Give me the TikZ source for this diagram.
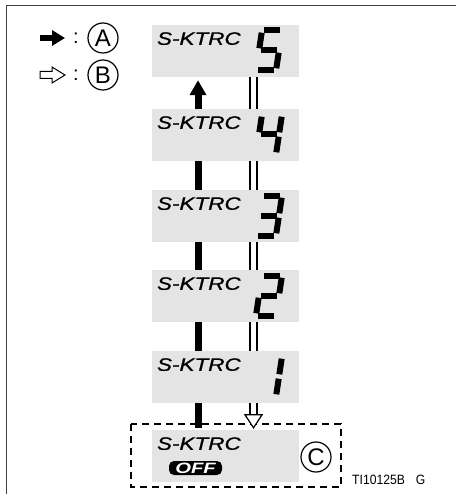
\documentclass[tikz,border=0pt]{standalone}
\usepackage{fontspec}
\setmainfont{Liberation Sans}
\usepackage{graphicx}
\usetikzlibrary{arrows.meta,positioning,calc}
\definecolor{lcd}{HTML}{E4E4E4}
\definecolor{rim}{HTML}{3F3F3F}
\newcommand{\ktrc}{\scalebox{1.25}[1]{\addfontfeature{FakeBold=0.8}S-KTRC}}
% segments of a seven-segment digit (w=20, h=40)
\newcommand{\segA}{(2.2,40)--(17.8,40)}
\newcommand{\segB}{(20,37.8)--(20,22.2)}
\newcommand{\segC}{(20,17.8)--(20,2.2)}
\newcommand{\segD}{(2.2,0)--(17.8,0)}
\newcommand{\segE}{(0,17.8)--(0,2.2)}
\newcommand{\segF}{(0,37.8)--(0,22.2)}
\newcommand{\segG}{(2.2,20)--(17.8,20)}
\newcommand{\segdigit}[2]{%
  \begin{scope}[shift={($(#1.center)+(30.5,19.5)$)},x=1pt,y=1pt,xslant=0.15]
    \foreach \s in {#2}{\edef\segpath{\csname seg\s\endcsname}\draw[seg] \segpath;}
  \end{scope}}
\tikzset{
  lcdbox/.style={fill=lcd, minimum width=147pt, minimum height=52pt, inner sep=0pt},
  lbl/.style={font=\fontsize{18}{18}\selectfont\itshape, inner sep=0pt, anchor=base west},
  seg/.style={line width=6pt, line cap=butt, draw=black},
  bar/.style={line width=7pt, draw=black},
  dbl/.style={draw=black, line width=1.3pt, double=white, double distance=5.5pt},
  hollow/.style={draw=black, line width=1.2pt, fill=white, line join=miter},
  circ/.style={circle, draw, line width=1.2pt, minimum size=30pt, inner sep=0pt,
               font=\fontsize{24}{24}\selectfont},
  colon/.style={inner sep=0pt, font=\fontsize{20}{20}\selectfont},
  offtag/.style={fill=black, rounded corners=5pt, minimum width=53pt, minimum height=14pt,
                 inner sep=0pt, text=white, font=\fontsize{15}{15}\selectfont\bfseries\itshape},
  dashframe/.style={draw=black, line width=2pt, dash pattern=on 7pt off 5pt},
  rimline/.style={draw=rim, line width=1.4pt},
  idtxt/.style={inner sep=0pt, anchor=base west, font=\fontsize{13.5}{13.5}\selectfont},
}
\begin{document}
\begin{tikzpicture}[x=1pt,y=-1pt]
\useasboundingbox (0,0) rectangle (456,494);

% ---- frame ----
\draw[rimline] (456,5.5) -- (6.5,5.5) -- (6.5,494);

% ---- legend ----
\node[circ]  (ca) at (103,38) {A};
\node[circ]  (cb) at (103,75) {B};
\node[colon] (k1) at (76,38) {:};
\node[colon] (k2) at (76,75) {:};
\coordinate (la0) at (40,38);
\coordinate (la1) at (65,38);
\draw[line width=6pt, -{Triangle[length=13pt,width=15pt]}] (la0) -- (la1);
\draw[hollow, line width=1pt] (40,71.5) -- (52,71.5) -- (52,67) -- (65,75)
      -- (52,83) -- (52,78.5) -- (40,78.5) -- cycle;

% ---- displays ----
\node[lcdbox] (b5) at (225.5,51)  {};
\node[lcdbox] (b4) at (225.5,135) {};
\node[lcdbox] (b3) at (225.5,216) {};
\node[lcdbox] (b2) at (225.5,296) {};
\node[lcdbox] (b1) at (225.5,377) {};
\node[lcdbox] (b0) at (225.5,456) {};

\node[lbl] (t5) at ($(b5.north west)+(5,20)$) {\ktrc};
\node[lbl] (t4) at ($(b4.north west)+(5,20)$) {\ktrc};
\node[lbl] (t3) at ($(b3.north west)+(5,20)$) {\ktrc};
\node[lbl] (t2) at ($(b2.north west)+(5,20)$) {\ktrc};
\node[lbl] (t1) at ($(b1.north west)+(5,20)$) {\ktrc};
\node[lbl] (t0) at ($(b0.north west)+(5,20)$) {\ktrc};

\segdigit{b5}{A,F,G,C,D}
\segdigit{b4}{F,G,B,C}
\segdigit{b3}{A,B,G,C,D}
\segdigit{b2}{A,B,G,E,D}
\segdigit{b1}{B,C}

\node[offtag] (off) at ($(b0.center)+(-30,12)$) {\scalebox{1.35}[1]{OFF}};

% ---- OFF group ----
\draw[dashframe] (131,424) rectangle (341,487);
\node[circ] (cc) at (316,457) {C};
\node[idtxt] (tid) at (352,484) {\scalebox{0.9}[1]{TI10125B}\hspace{11pt}\scalebox{0.9}[1]{G}};

% ---- up: black bar ----
\coordinate (barx) at (198,0);
\draw[bar, -{Triangle[length=15pt,width=16pt]}, shorten >=3pt]
      (b4.north -| barx) -- (b5.south -| barx);
\draw[bar] (b3.north -| barx) -- (b4.south -| barx);
\draw[bar] (b2.north -| barx) -- (b3.south -| barx);
\draw[bar] (b1.north -| barx) -- (b2.south -| barx);
\draw[bar] ($(b0.north -| barx)+(0,-2)$) -- (b1.south -| barx);

% ---- down: hollow double line ----
\coordinate (dblx) at (253.5,0);
\coordinate (tip) at ($(b0.north -| dblx)+(0,-2)$);
\draw[dbl] (b5.south -| dblx) -- (b4.north -| dblx);
\draw[dbl] (b4.south -| dblx) -- (b3.north -| dblx);
\draw[dbl] (b3.south -| dblx) -- (b2.north -| dblx);
\draw[dbl] (b2.south -| dblx) -- (b1.north -| dblx);
\draw[dbl] (b1.south -| dblx) -- ($(tip)+(0,-13)$);
\draw[hollow] ($(tip)+(-8.5,-13)$) -- (tip) -- ($(tip)+(8.5,-13)$) -- cycle;

\end{tikzpicture}
\end{document}
